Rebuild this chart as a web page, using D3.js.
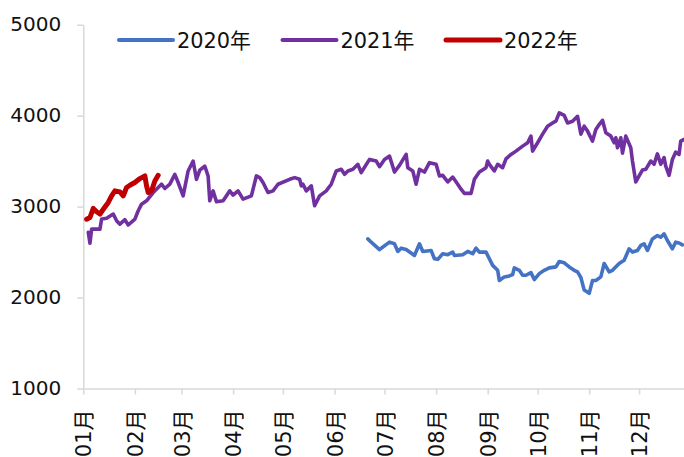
<!DOCTYPE html>
<html>
<head>
<meta charset="utf-8">
<script src="https://cdn.jsdelivr.net/npm/d3@7/dist/d3.min.js"></script>
<style>
  html, body { margin: 0; padding: 0; background: #fff; }
  svg { display: block; }
</style>
</head>
<body>
<svg id="chart" width="684" height="457"></svg>
<script>
// Series: month-day of each observation and its value
const seriesNames = ["2020年", "2021年", "2022年"];
const seriesColors = ["#4472C4", "#7030A0", "#C00000"];

const dates2020 = ["06-21","06-23","06-28","07-04","07-07","07-09","07-11","07-14","07-19","07-22","07-24","07-29","07-31","08-02","08-05","08-08","08-11","08-12","08-17","08-20","08-23","08-25","08-27","08-31","09-04","09-07","09-08","09-11","09-14","09-16","09-17","09-20","09-22","09-24","09-27","09-29","10-02","10-05","10-08","10-12","10-14","10-17","10-20","10-23","10-25","10-27","10-29","11-01","11-03","11-05","11-08","11-10","11-13","11-15","11-19","11-22","11-25","11-27","11-30","12-02","12-04","12-06","12-09","12-12","12-14","12-16","12-18","12-21","12-23","12-25","12-27"];
const values2020 = [2645,2609,2528,2609,2591,2507,2543,2528,2463,2591,2507,2518,2427,2420,2482,2471,2500,2463,2471,2507,2482,2544,2500,2500,2354,2300,2188,2227,2238,2253,2326,2300,2245,2245,2274,2198,2263,2300,2326,2337,2396,2382,2337,2300,2282,2221,2082,2046,2188,2188,2227,2374,2282,2300,2374,2410,2536,2500,2518,2573,2591,2518,2645,2681,2663,2700,2627,2536,2609,2600,2580];

const dates2021 = ["01-04","01-05","01-06","01-11","01-12","01-15","01-19","01-21","01-23","01-26","01-28","02-01","02-03","02-05","02-08","02-12","02-15","02-17","02-19","02-22","02-25","02-27","03-02","03-05","03-08","03-10","03-12","03-15","03-17","03-18","03-20","03-22","03-26","03-28","03-30","04-01","04-04","04-07","04-12","04-15","04-17","04-19","04-22","04-25","04-28","05-05","05-08","05-11","05-12","05-13","05-15","05-18","05-20","05-23","05-27","05-30","06-02","06-05","06-07","06-09","06-12","06-15","06-17","06-22","06-26","06-28","07-01","07-04","07-07","07-10","07-14","07-15","07-18","07-20","07-22","07-25","07-28","08-01","08-03","08-05","08-08","08-11","08-14","08-16","08-18","08-22","08-24","08-27","08-31","09-01","09-02","09-05","09-07","09-10","09-12","09-15","09-18","09-22","09-25","09-27","09-28","10-01","10-04","10-07","10-10","10-12","10-14","10-17","10-19","10-22","10-25","10-27","10-29","10-31","11-03","11-05","11-07","11-09","11-11","11-14","11-16","11-17","11-18","11-20","11-21","11-23","11-26","11-27","11-29","12-01","12-03","12-05","12-08","12-10","12-12","12-14","12-16","12-17","12-19","12-21","12-23","12-25","12-26","12-28"];
const values2021 = [2718,2597,2752,2752,2863,2871,2918,2845,2807,2856,2798,2863,2954,3027,3064,3155,3210,3246,3199,3247,3355,3265,3118,3392,3501,3300,3402,3446,3337,3064,3173,3053,3064,3118,3173,3126,3173,3082,3118,3337,3319,3265,3155,3173,3246,3300,3319,3300,3228,3246,3173,3228,3009,3118,3173,3246,3392,3410,3355,3392,3410,3465,3374,3519,3501,3439,3519,3555,3380,3453,3574,3428,3392,3246,3410,3380,3483,3465,3337,3344,3271,3325,3246,3191,3145,3145,3300,3380,3428,3501,3465,3392,3465,3428,3526,3573,3610,3665,3702,3775,3610,3702,3797,3884,3920,3939,4030,4002,3920,3939,3993,3797,3884,3830,3720,3848,3902,3949,3812,3775,3702,3757,3648,3757,3588,3775,3648,3501,3271,3337,3402,3410,3501,3465,3580,3465,3538,3446,3344,3519,3599,3574,3720,3738];

const dates2022 = ["01-03","01-05","01-07","01-09","01-11","01-13","01-16","01-18","01-20","01-23","01-25","01-27","01-29","02-01","02-04","02-07","02-08","02-09","02-11","02-13","02-15"];
const values2022 = [2861,2880,2980,2943,2918,2971,3046,3118,3173,3162,3118,3210,3235,3265,3308,3337,3228,3155,3173,3282,3344];

const yTicks = [1000, 2000, 3000, 4000, 5000];
const monthFormat = "%m月";

// ---- layout ----
const svg = d3.select("#chart");
const FONT = "'DejaVu Sans', 'Noto Sans CJK SC', sans-serif";
const axisColor = "#D9D9D9";
const textColor = "#111";

const parse = d3.timeParse("%Y-%m-%d");
const toDate = md => parse("2021-" + md);

const x = d3.scaleTime()
  .domain([new Date(2021, 0, 1), new Date(2022, 0, 1)])
  .range([83.3, 690.7]);
const y = d3.scaleLinear()
  .domain([1000, 5000])
  .range([388.5, 24.7]);

// y axis
const yAxis = svg.append("g")
  .attr("transform", `translate(${x.range()[0]},0)`)
  .call(d3.axisLeft(y).tickValues(yTicks).tickSize(6).tickSizeOuter(0).tickPadding(16).tickFormat(d3.format("d")));
yAxis.select(".domain").attr("stroke", axisColor).attr("stroke-width", 1.5);
yAxis.selectAll(".tick line").attr("stroke", axisColor).attr("stroke-width", 1.5);
yAxis.selectAll(".tick text")
  .attr("fill", textColor)
  .style("font-family", FONT)
  .style("font-size", "19px")
  .attr("textLength", 51)
  .attr("lengthAdjust", "spacingAndGlyphs");

// x axis (monthly ticks)
const months = d3.timeMonth.range(new Date(2021, 0, 1), new Date(2021, 11, 2));
const xAxis = svg.append("g")
  .attr("transform", `translate(0,${y(1000)})`)
  .call(d3.axisBottom(x).tickValues(months).tickSize(6).tickSizeOuter(0).tickFormat(d3.timeFormat(monthFormat)));
xAxis.select(".domain").attr("stroke", axisColor).attr("stroke-width", 1.5);
xAxis.selectAll(".tick line").attr("stroke", axisColor).attr("stroke-width", 1.5);
xAxis.selectAll(".tick text")
  .attr("fill", textColor)
  .style("font-family", FONT)
  .style("font-size", "21px")
  .attr("transform", "rotate(-90)")
  .attr("x", -21)
  .attr("y", 0)
  .attr("dy", "0.36em")
  .attr("text-anchor", "end");

// lines
const series = [
  { dates: dates2020, values: values2020, width: 3.6 },
  { dates: dates2021, values: values2021, width: 3.6 },
  { dates: dates2022, values: values2022, width: 5 }
];
const line = d3.line().x(d => x(d.date)).y(d => y(d.value));

series.forEach((s, i) => {
  const pts = s.dates.map((md, j) => ({ date: toDate(md), value: s.values[j] }));
  svg.append("path")
    .datum(pts)
    .attr("fill", "none")
    .attr("stroke", seriesColors[i])
    .attr("stroke-width", s.width)
    .attr("stroke-linejoin", "round")
    .attr("stroke-linecap", "round")
    .attr("d", line);
});

// legend
const legend = svg.append("g").attr("transform", "translate(119,40)");
seriesNames.forEach((name, i) => {
  const g = legend.append("g").attr("transform", `translate(${i * 163.5},0)`);
  g.append("line")
    .attr("x1", 0).attr("x2", 54).attr("y1", 0).attr("y2", 0)
    .attr("stroke", seriesColors[i])
    .attr("stroke-width", i === 2 ? 5 : 4)
    .attr("stroke-linecap", "round");
  g.append("text")
    .attr("x", 58).attr("y", 0).attr("dy", "0.36em")
    .attr("fill", textColor)
    .style("font-family", FONT)
    .style("font-size", "21px")
    .attr("textLength", 74)
    .attr("lengthAdjust", "spacingAndGlyphs")
    .text(name);
});
</script>
</body>
</html>
